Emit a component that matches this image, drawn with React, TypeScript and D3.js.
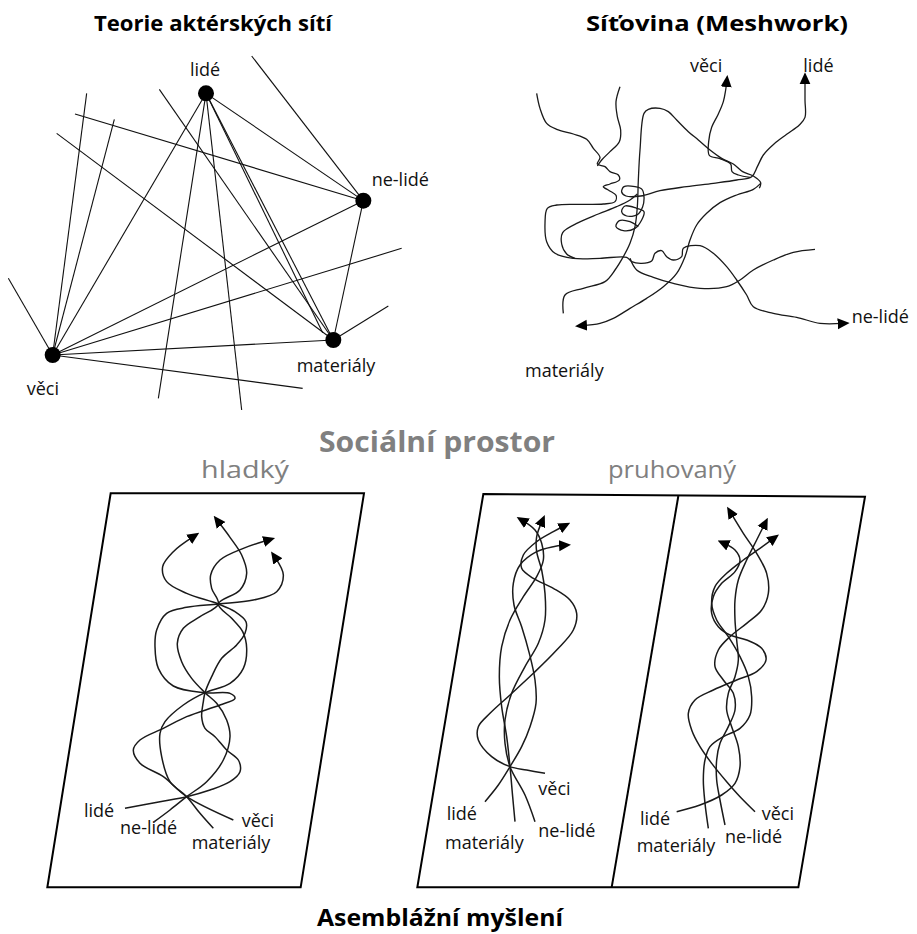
import * as d3 from "d3";

type Pt = [number, number];

const W = 917;
const H = 934;

// ---- Teorie aktérských sítí (traced on a 3x grid of the left top block)
const actorNames = ["lidé", "ne-lidé", "materiály", "věci"];
const actorPos: Pt[] = [[618, 160], [1090, 482], [1000, 900], [158, 945]];
const netEdges: [string | Pt, string | Pt][] = [
  ["lidé", "ne-lidé"], ["lidé", "věci"], ["lidé", "materiály"], ["lidé", [968, 878]],
  ["lidé", [475, 1075]], ["lidé", [725, 1110]],
  ["ne-lidé", "materiály"], ["ne-lidé", "věci"], ["materiály", "věci"],
  [[478, 148], "materiály"], [[170, 280], "materiály"],
  [[755, 48], "ne-lidé"], [[225, 222], "ne-lidé"],
  ["věci", [25, 715]], ["věci", [260, 160]], ["věci", [343, 238]],
  ["věci", [1205, 625]], ["věci", [908, 1045]], ["materiály", [1165, 798]],
];
const netLabelAt: Pt[] = [[615, 108], [1115, 437], [890, 997], [80, 1065]];
const netLabelAnchor = ["middle", "start", "start", "start"];

// ---- Síťovina (Meshwork)
const meshNe: Pt[] = [[50,160],[60,205],[80,250],[110,268],[160,282],[200,298],[220,325],[240,352],[232,372],[255,380],[270,395],[295,405],[298,420],[270,432],[250,440],[268,452],[288,466],[285,485],[250,492],[180,493],[110,495],[82,505],[75,550],[80,605],[105,640],[160,655],[240,655],[320,652],[335,665],[365,670],[395,663],[405,640],[425,632],[440,650],[460,660],[485,650],[490,625],[540,617],[580,640],[620,680],[650,720],[680,765],[700,800],[760,820],[830,832],[900,850],[968,850]];
const meshTop: Pt[] = [[300,140],[288,185],[292,230],[302,270],[298,305],[270,335],[245,360],[232,378]];
const meshCenter: Pt[] = [[130,820],[135,765],[190,745],[255,725],[285,690],[310,650],[330,610],[345,560],[352,500],[355,420],[360,330],[372,220],[385,208],[420,205],[445,215],[470,240],[505,275],[535,300],[570,330],[605,355],[640,372],[668,395],[700,408],[722,428],[718,445]];
const meshVeci: Pt[] = [[690,412],[655,405],[636,395],[632,372],[600,356],[568,346],[566,305],[575,262],[595,222],[610,185],[617,150],[620,126]];
const meshLide: Pt[] = [[355,560],[330,545],[298,542],[288,560],[310,572],[345,565],[365,540],[372,515],[350,505],[315,498],[305,515],[320,528],[352,524],[368,500],[372,470],[366,448],[345,440],[312,440],[305,456],[318,468],[362,468],[420,452],[500,440],[580,430],[650,420],[695,410],[712,380],[730,345],[762,312],[800,283],[838,255],[855,232],[855,180],[855,118]];
const meshMat: Pt[] = [[722,430],[700,448],[650,465],[600,488],[560,520],[530,555],[510,600],[495,650],[470,700],[430,740],[380,775],[330,805],[280,835],[240,850],[186,857]];
const meshArc: Pt[] = [[330,655],[350,690],[400,712],[460,730],[540,745],[620,740],[660,720],[700,690],[760,660],[820,637],[885,628]];
const meshInner: Pt[] = [[165,655],[140,642],[125,612],[128,578],[175,548],[235,522],[290,500],[330,480],[352,462]];
const meshLabels = ["věci", "lidé", "ne-lidé", "materiály"];
const meshLabelAt: Pt[] = [[510, 95], [850, 95], [995, 848], [15, 1010]];

// ---- hladký prostor (one panel)
const smoothFrame: Pt[] = [[152, 40], [912, 40], [722, 1222], [-38, 1222]];
const smoothStrands: Record<string, Pt[]> = {
  "věci": [[520,1020],[380,950],[310,890],[240,850],[220,810],[240,780],[310,745],[380,710],[480,675],[525,655],[510,640],[435,638],[340,618],[295,565],[285,500],[290,450],[320,400],[380,382],[475,372],[580,360],[650,335],[670,285],[645,232]],
  "lidé": [[195,985],[300,965],[380,950],[450,930],[510,905],[540,875],[535,840],[500,810],[465,770],[435,745],[425,710],[430,665],[435,638],[455,590],[485,535],[530,495],[555,460],[558,425],[525,395],[475,372],[380,340],[320,305],[308,260],[340,215],[400,170]],
  "ne-lidé": [[283,1025],[330,990],[380,950],[440,905],[490,840],[510,770],[500,720],[470,670],[435,638],[395,595],[365,545],[352,490],[370,445],[420,410],[475,372],[455,325],[452,285],[480,240],[550,205],[625,180]],
  "materiály": [[460,1045],[420,1000],[380,950],[330,905],[305,830],[300,760],[315,725],[370,675],[435,638],[510,610],[550,565],[560,505],[548,455],[515,415],[475,372],[540,330],[560,280],[545,225],[510,172],[474,124]],
};
const smoothLabelAt: Record<string, Pt> = {
  "lidé": [72, 1012], "ne-lidé": [180, 1062], "věci": [545, 1042], "materiály": [395, 1108],
};

// ---- pruhovaný prostor (two panels)
const stripedOuter: Pt[] = [[220, 42], [1365, 50], [1165, 1222], [22, 1222]];
const stripedDivider: Pt[] = [[805, 48], [605, 1222]];
const stripedLeft: Record<string, Pt[]> = {
  "věci": [[405,880],[350,870],[300,860],[245,830],[205,780],[205,740],[240,700],[300,645],[370,580],[440,510],[490,450],[500,400],[480,360],[430,325],[370,295],[335,265],[340,225],[380,185],[430,155],[462,138]],
  "lidé": [[225,965],[265,915],[300,860],[335,800],[360,740],[378,670],[375,600],[358,520],[335,440],[312,375],[310,310],[330,255],[380,215],[430,200],[462,196]],
  "materiály": [[315,1025],[308,950],[300,860],[290,770],[275,680],[268,590],[275,500],[300,420],[340,350],[380,290],[400,240],[395,190],[375,150],[338,122]],
  "ne-lidé": [[375,1025],[345,945],[300,860],[285,790],[285,720],[305,640],[345,560],[385,490],[405,420],[405,340],[395,270],[380,215],[380,170],[396,124]],
};
const stripedRight: Record<string, Pt[]> = {
  "věci": [[1035,995],[990,950],[950,905],[905,850],[870,800],[845,750],[835,700],[855,660],[910,630],[980,600],[1040,575],[1068,540],[1055,505],[1010,480],[960,465],[925,440],[905,400],[910,350],[935,310],[975,275],[990,240],[975,210],[942,190]],
  "lidé": [[800,995],[870,975],[935,945],[975,910],[990,860],[985,800],[965,740],[950,690],[955,640],[975,590],[985,540],[980,480],[975,420],[975,360],[985,300],[1010,240],[1040,180],[1064,132]],
  "materiály": [[895,1045],[885,970],[880,900],[885,840],[900,800],[940,770],[990,745],[1020,705],[1025,650],[1015,590],[990,530],[955,470],[920,420],[905,370],[915,320],[950,280],[1000,240],[1050,205],[1090,176]],
  "ne-lidé": [[945,1035],[930,960],[920,900],[920,840],[930,790],[955,740],[975,690],[970,640],[940,600],[915,560],[925,510],[960,470],[1010,430],[1055,390],[1075,340],[1070,280],[1040,220],[1000,160],[962,98]],
};
const stripedLabelAt: Record<string, Pt> = {
  "lidé": [110, 1020], "materiály": [105, 1108], "věci": [385, 945], "ne-lidé": [385, 1070],
  "lidé2": [690, 1035], "materiály2": [680, 1115], "věci2": [1055, 1020], "ne-lidé2": [945, 1090],
};

const titles = ["Teorie aktérských sítí", "Síťovina (Meshwork)", "Sociální prostor", "hladký", "pruhovaný", "Asemblážní myšlení"];

const FONT = "'Open Sans', 'Noto Sans', sans-serif";

function scales(dx: [number, number], rx: [number, number], dy: [number, number], ry: [number, number]) {
  return { x: d3.scaleLinear().domain(dx).range(rx), y: d3.scaleLinear().domain(dy).range(ry) };
}

const net = scales([0, 1260], [0, 420], [0, 1140], [40, 420]);
const mesh = scales([0, 1140], [520, 900], [0, 1020], [40, 380]);
const p1 = scales([0, 960], [60, 380], [0, 1260], [480, 900]);
const p23 = scales([0, 1500], [410, 910], [0, 1260], [480, 900]);

function curve(s: { x: any; y: any }, pts: Pt[]) {
  return d3.line<Pt>().x((d) => s.x(d[0])).y((d) => s.y(d[1])).curve(d3.curveCatmullRom.alpha(0.5))(pts) || "";
}
function poly(s: { x: any; y: any }, pts: Pt[], closed = true) {
  const l = d3.line<Pt>().x((d) => s.x(d[0])).y((d) => s.y(d[1]))(pts) || "";
  return closed ? l + "Z" : l;
}

export default function App() {
  const actor = (v: string | Pt): Pt => (typeof v === "string" ? actorPos[actorNames.indexOf(v)] : v);

  const labelStyle = { fontFamily: FONT, fontSize: 18, fill: "#111" } as const;

  const braid = (s: typeof p1, strands: Record<string, Pt[]>, key: string) =>
    Object.entries(strands).map(([name, pts]) => (
      <path key={key + name} d={curve(s, pts)} fill="none" stroke="#1a1a1a" strokeWidth={1.5} markerEnd="url(#arrow)" />
    ));

  return (
    <svg width={W} height={H} style={{ position: "absolute", left: 0, top: 0, background: "#fff" }}>
      <defs>
        <marker id="arrow" viewBox="0 0 12 12" refX={5} refY={6} markerWidth={12} markerHeight={12} markerUnits="userSpaceOnUse" orient="auto">
          <path d="M0,0.5 L12,6 L0,11.5 Z" fill="#000" />
        </marker>
      </defs>

      {/* titles */}
      <g fontFamily={FONT} textAnchor="middle">
        <text x={213} y={31} fontSize={22} fontWeight={700} fill="#000" textLength={238} lengthAdjust="spacingAndGlyphs">{titles[0]}</text>
        <text x={717} y={31} fontSize={22} fontWeight={700} fill="#000" textLength={262} lengthAdjust="spacingAndGlyphs">{titles[1]}</text>
        <text x={437} y={452} fontSize={28} fontWeight={700} fill="#808080" textLength={236} lengthAdjust="spacingAndGlyphs">{titles[2]}</text>
        <text x={245} y={478} fontSize={24} fill="#808080" textLength={88} lengthAdjust="spacingAndGlyphs">{titles[3]}</text>
        <text x={672} y={478} fontSize={24} fill="#808080" textLength={128} lengthAdjust="spacingAndGlyphs">{titles[4]}</text>
        <text x={440} y={926} fontSize={24} fontWeight={700} fill="#000" textLength={246} lengthAdjust="spacingAndGlyphs">{titles[5]}</text>
      </g>

      {/* actor-network */}
      <g stroke="#111" strokeWidth={1.1}>
        {netEdges.map(([a, b], i) => {
          const p = actor(a), q = actor(b);
          return <line key={i} x1={net.x(p[0])} y1={net.y(p[1])} x2={net.x(q[0])} y2={net.y(q[1])} />;
        })}
      </g>
      {actorPos.map((p, i) => (
        <circle key={i} cx={net.x(p[0])} cy={net.y(p[1])} r={8} fill="#000" />
      ))}
      {actorNames.map((n, i) => (
        <text key={n} x={net.x(netLabelAt[i][0])} y={net.y(netLabelAt[i][1])} textAnchor={netLabelAnchor[i] as any} style={labelStyle}>{n}</text>
      ))}

      {/* meshwork */}
      <g fill="none" stroke="#1a1a1a" strokeWidth={1.3}>
        {[meshTop, meshCenter, meshArc, meshInner].map((pts, i) => <path key={i} d={curve(mesh, pts)} />)}
        {[meshNe, meshVeci, meshLide, meshMat].map((pts, i) => <path key={"a" + i} d={curve(mesh, pts)} markerEnd="url(#arrow)" />)}
      </g>
      {meshLabels.map((n, i) => (
        <text key={n} x={mesh.x(meshLabelAt[i][0])} y={mesh.y(meshLabelAt[i][1])} style={labelStyle}>{n}</text>
      ))}

      {/* smooth space */}
      <path d={poly(p1, smoothFrame)} fill="none" stroke="#000" strokeWidth={2} />
      {braid(p1, smoothStrands, "s")}
      {Object.entries(smoothLabelAt).map(([n, p]) => (
        <text key={n} x={p1.x(p[0])} y={p1.y(p[1])} style={labelStyle}>{n}</text>
      ))}

      {/* striated space */}
      <path d={poly(p23, stripedOuter)} fill="none" stroke="#000" strokeWidth={2} />
      <path d={poly(p23, stripedDivider, false)} fill="none" stroke="#000" strokeWidth={2} />
      {braid(p23, stripedLeft, "l")}
      {braid(p23, stripedRight, "r")}
      {Object.entries(stripedLabelAt).map(([n, p]) => (
        <text key={n} x={p23.x(p[0])} y={p23.y(p[1])} style={labelStyle}>{n.replace("2", "")}</text>
      ))}
    </svg>
  );
}
